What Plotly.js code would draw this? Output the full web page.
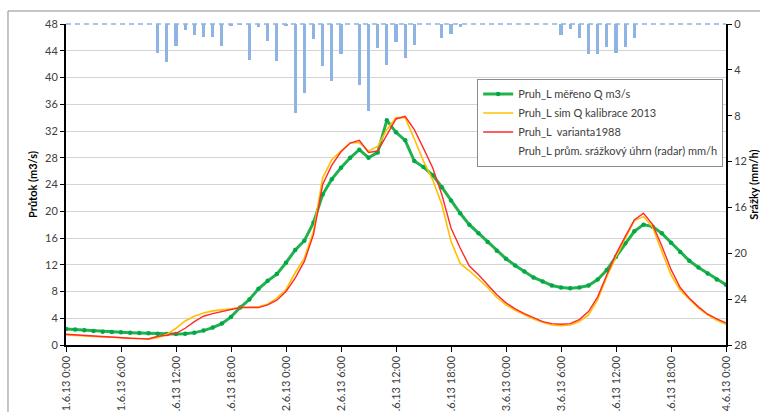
<!DOCTYPE html>
<html>
<head>
<meta charset="utf-8">
<script src="https://cdn.plot.ly/plotly-3.0.1.min.js"></script>
<style>html,body{margin:0;padding:0;background:#fff;}#chart{width:760px;height:412px;}</style>
</head>
<body>
<div id="chart"></div>
<script>
// hours since 1.6.13 0:00
var hours = [0,1,2,3,4,5,6,7,8,9,10,11,12,13,14,15,16,17,18,19,20,21,22,23,24,25,26,27,28,29,30,31,32,33,34,35,36,37,38,39,40,41,42,43,44,45,46,47,48,49,50,51,52,53,54,55,56,57,58,59,60,61,62,63,64,65,66,67,68,69,70,71,72];

var measuredQ = [2.4,2.3,2.2,2.1,2.0,1.95,1.9,1.85,1.8,1.75,1.7,1.65,1.65,1.7,1.85,2.15,2.6,3.2,4.2,5.6,6.8,8.4,9.6,10.6,12.3,14.2,15.6,18.3,22.5,24.8,26.5,28.0,29.2,28.0,28.8,33.6,31.8,30.6,27.5,26.6,25.4,23.6,21.6,19.7,18.0,16.7,15.4,14.1,12.9,11.9,11.0,10.1,9.5,8.9,8.6,8.5,8.6,8.9,9.8,11.2,13.2,15.2,17.0,18.0,17.7,16.7,15.3,13.9,12.6,11.6,10.7,9.8,9.0];

var simQ2013 = [1.5,1.4,1.3,1.25,1.2,1.15,1.1,1.0,0.95,0.9,1.1,1.6,2.5,3.6,4.3,4.8,5.1,5.2,5.4,5.6,5.6,5.7,6.1,7.0,8.3,10.8,13.0,17.0,25.0,27.7,29.0,30.2,30.3,29.0,29.7,32.2,34.0,34.0,30.8,27.5,24.7,21.0,15.5,12.2,11.1,9.9,8.6,7.1,6.0,5.2,4.5,3.9,3.4,3.0,2.9,3.0,3.5,4.5,6.8,10.2,13.2,16.0,18.6,19.2,17.6,14.0,10.5,8.2,6.8,5.5,4.5,3.7,3.1];

var variant1988 = [1.6,1.5,1.4,1.3,1.25,1.15,1.1,1.0,0.95,0.9,1.3,1.45,1.75,2.5,3.5,4.3,4.7,5.0,5.2,5.6,5.6,5.6,6.0,6.7,8.0,10.0,12.5,16.5,24.0,26.9,28.9,30.2,30.6,28.8,29.0,31.3,33.8,34.2,32.2,29.4,26.5,22.5,17.5,14.5,11.8,10.5,9.0,7.5,6.3,5.4,4.7,4.1,3.5,3.2,3.1,3.2,3.8,5.0,7.2,10.5,13.6,16.2,18.7,19.7,18.0,14.8,11.3,8.6,7.0,5.7,4.6,3.9,3.3];

var rain = [0,0,0,0,0,0,0,0,0,0,2.5,3.3,1.9,0.5,0.95,1.15,1.15,1.9,0.2,0.05,3.1,0.3,1.5,3.2,0.2,7.8,6.0,1.3,3.7,5.0,2.6,0,5.3,7.6,2.1,3.6,1.6,3.0,1.8,0,0,1.25,0.9,0.3,0,0,0,0,0,0,0,0,0,0,0.95,0.4,1.25,2.6,2.6,2.0,2.55,2.0,1.25,0,0,0,0,0,0,0,0,0,0];

var xTickVals = [0,6,12,18,24,30,36,42,48,54,60,66,72];
var xTickText = ["1.6.13 0:00","1.6.13 6:00","1.6.13 12:00","1.6.13 18:00","2.6.13 0:00","2.6.13 6:00","2.6.13 12:00","2.6.13 18:00","3.6.13 0:00","3.6.13 6:00","3.6.13 12:00","3.6.13 18:00","4.6.13 0:00"];

var names = ["Pruh_L měřeno Q m3/s","Pruh_L sim Q kalibrace 2013","Pruh_L  varianta1988","Pruh_L prům. srážkový úhrn (radar) mm/h"];

var FONT = "Lato, 'Open Sans', sans-serif";

var traces = [
  {x: hours, y: rain, type: 'bar', yaxis: 'y2', width: 0.33,
   marker: {color: '#8DB4E2'}, showlegend: false, hoverinfo: 'x+y'},
  {x: hours, y: measuredQ, type: 'scatter', mode: 'lines+markers', name: names[0],
   line: {color: '#22B24C', width: 3}, marker: {color: '#00A84A', size: 4.5}},
  {x: hours, y: simQ2013, type: 'scatter', mode: 'lines', name: names[1],
   line: {color: '#FFC000', width: 1.6}},
  {x: hours, y: variant1988, type: 'scatter', mode: 'lines', name: names[2],
   line: {color: '#FF2A2A', width: 1.4}},
  {x: [null], y: [null], type: 'scatter', mode: 'lines', name: names[3],
   line: {color: 'rgba(0,0,0,0)', width: 1}}
];

var layout = {
  width: 760, height: 412,
  margin: {l: 66, r: 34, t: 24, b: 67},
  paper_bgcolor: '#ffffff', plot_bgcolor: '#ffffff',
  font: {family: FONT, size: 11, color: '#404040'},
  showlegend: true,
  bargap: 0,
  legend: {x: 0.623, y: 0.83, xanchor: 'left', yanchor: 'top',
           bgcolor: '#ffffff', bordercolor: '#8c8c8c', borderwidth: 1,
           font: {family: FONT, size: 11, color: '#404040'}, tracegroupgap: 0},
  xaxis: {range: [0, 72], tickmode: 'array', tickvals: xTickVals, ticktext: xTickText,
          tickangle: -90, ticks: 'outside', ticklen: 5, tickcolor: '#000', tickwidth: 1,
          showgrid: false, zeroline: false, showline: true, linecolor: '#000', linewidth: 1.5,
          tickfont: {family: FONT, size: 11, color: '#404040'}, fixedrange: true},
  yaxis: {range: [0, 48], dtick: 4, tick0: 0, ticks: 'outside', ticklen: 4, tickcolor: '#000',
          showgrid: true, gridcolor: '#d4d4d4', gridwidth: 1, zeroline: false,
          showline: true, linecolor: '#000', linewidth: 2,
          tickfont: {family: FONT, size: 11, color: '#404040'},
          title: {text: '<b>Průtok (m3/s)</b>', standoff: 5, font: {family: FONT, size: 11, color: '#000'}}},
  yaxis2: {overlaying: 'y', side: 'right', range: [28, 0], dtick: 4, tick0: 0,
           ticks: 'outside', ticklen: 4, tickcolor: '#000', showgrid: false, zeroline: false,
           showline: true, linecolor: '#000', linewidth: 2,
           tickfont: {family: FONT, size: 11, color: '#404040'},
           title: {text: '<b>Srážky (mm/h)</b>', standoff: 9, font: {family: FONT, size: 11, color: '#000'}}},
  shapes: [
    {type: 'line', xref: 'paper', yref: 'paper', x0: 0, x1: 1, y0: 1, y1: 1,
     line: {color: '#8DB4E2', width: 1.5, dash: '5px,4px'}},
    {type: 'rect', xref: 'paper', yref: 'paper', x0: -0.0879, x1: 1.2, y0: -0.4, y1: 1.0405,
     line: {color: '#8c8c8c', width: 1}, fillcolor: 'rgba(0,0,0,0)', layer: 'below'}
  ]
};

Plotly.newPlot('chart', traces, layout, {displayModeBar: false, staticPlot: true});
</script>
</body>
</html>
